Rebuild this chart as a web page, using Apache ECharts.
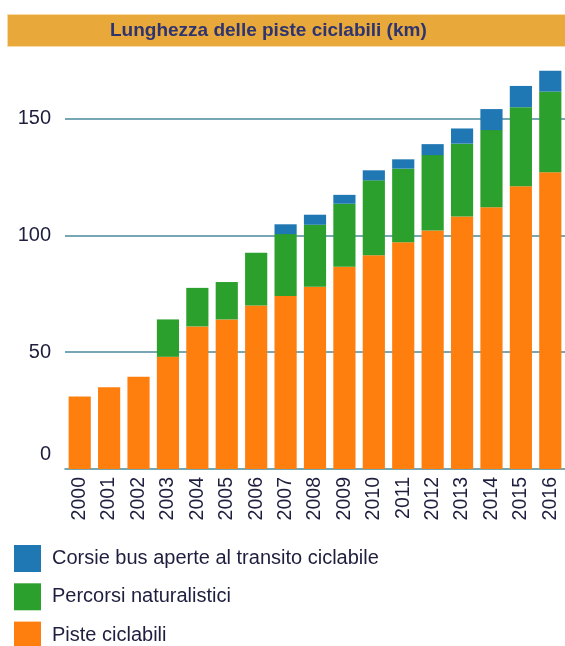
<!DOCTYPE html>
<html>
<head>
<meta charset="utf-8">
<script src="https://cdn.jsdelivr.net/npm/echarts@6/dist/echarts.min.js"></script>
<style>
  html, body { margin: 0; padding: 0; background: #fff; }
  #chart { width: 565px; height: 646px; }
</style>
</head>
<body>
<div id="chart"></div>
<script>
var years = ['2000', '2001', '2002', '2003', '2004', '2005', '2006', '2007', '2008',
    '2009', '2010', '2011', '2012', '2013', '2014', '2015', '2016'];
var piste = [31, 35, 39.5, 48, 61, 64, 70, 74, 78, 86.5, 91.5, 97, 102, 108, 112, 121, 127];
var percorsi = [0, 0, 0, 16, 16.5, 16, 22.5, 26.5, 26.5, 27, 32, 31.5, 32.3, 31.2, 33, 33.8, 34.5];
var corsie = [0, 0, 0, 0, 0, 0, 0, 4.2, 4.3, 3.8, 4.3, 4, 4.7, 6.5, 9, 9.1, 8.9];
var yTicks = [0, 50, 100, 150];

var teal = '#4a8a9c';
var ink = '#1e1e3e';

var chart = echarts.init(document.getElementById('chart'));
chart.setOption({
    animation: false,
    textStyle: { fontFamily: 'Liberation Sans, Arial, sans-serif' },
    graphic: [{
        type: 'rect',
        shape: { x: 7.5, y: 14.5, width: 565, height: 32 },
        style: { fill: '#e9a83a', stroke: '#f6dba6', lineWidth: 1 },
        z: -1
    }],
    title: {
        text: 'Lunghezza delle piste ciclabili (km)',
        left: 110,
        top: 21,
        padding: 0,
        textStyle: { fontSize: 19, fontWeight: 'bold', color: '#2d3470' }
    },
    legend: {
        orient: 'vertical',
        left: 14,
        top: 545,
        height: 130,
        padding: 0,
        itemWidth: 27,
        itemHeight: 27,
        itemGap: 11.3,
        icon: 'rect',
        data: ['Corsie bus aperte al transito ciclabile', 'Percorsi naturalistici', 'Piste ciclabili'],
        textStyle: { fontSize: 20, color: ink, padding: [0, 0, 0, 6] }
    },
    grid: { left: 65, right: -4.3, top: 60, bottom: 177 },
    xAxis: {
        type: 'category',
        data: years,
        axisLine: { lineStyle: { color: teal, width: 1.5 } },
        axisTick: { length: 6, lineStyle: { color: teal, width: 1.5 } },
        axisLabel: { rotate: 90, fontSize: 19.5, color: ink, margin: 8 }
    },
    yAxis: {
        type: 'value',
        min: 0,
        max: 175,
        interval: 50,
        axisLine: { show: false },
        axisTick: { show: false },
        axisLabel: {
            fontSize: 20,
            color: ink,
            margin: 14,
            showMaxLabel: false,
            formatter: function (v) {
                if (yTicks.indexOf(v) < 0) return '';
                return v === 0 ? '{z|0}' : String(v);
            },
            rich: { z: { fontSize: 20, color: ink, padding: [0, 0, 30, 0] } }
        },
        splitLine: {
            showMinLine: false,
            showMaxLine: false,
            lineStyle: { color: teal, width: 1.5 }
        }
    },
    series: [{
        name: 'Piste ciclabili',
        type: 'bar',
        stack: 'km',
        data: piste,
        barCategoryGap: '24.6%',
        itemStyle: { color: '#ff7f0e' }
    }, {
        name: 'Percorsi naturalistici',
        type: 'bar',
        stack: 'km',
        data: percorsi,
        itemStyle: { color: '#2ca02c' }
    }, {
        name: 'Corsie bus aperte al transito ciclabile',
        type: 'bar',
        stack: 'km',
        data: corsie,
        itemStyle: { color: '#1f77b4' }
    }]
});
</script>
</body>
</html>
